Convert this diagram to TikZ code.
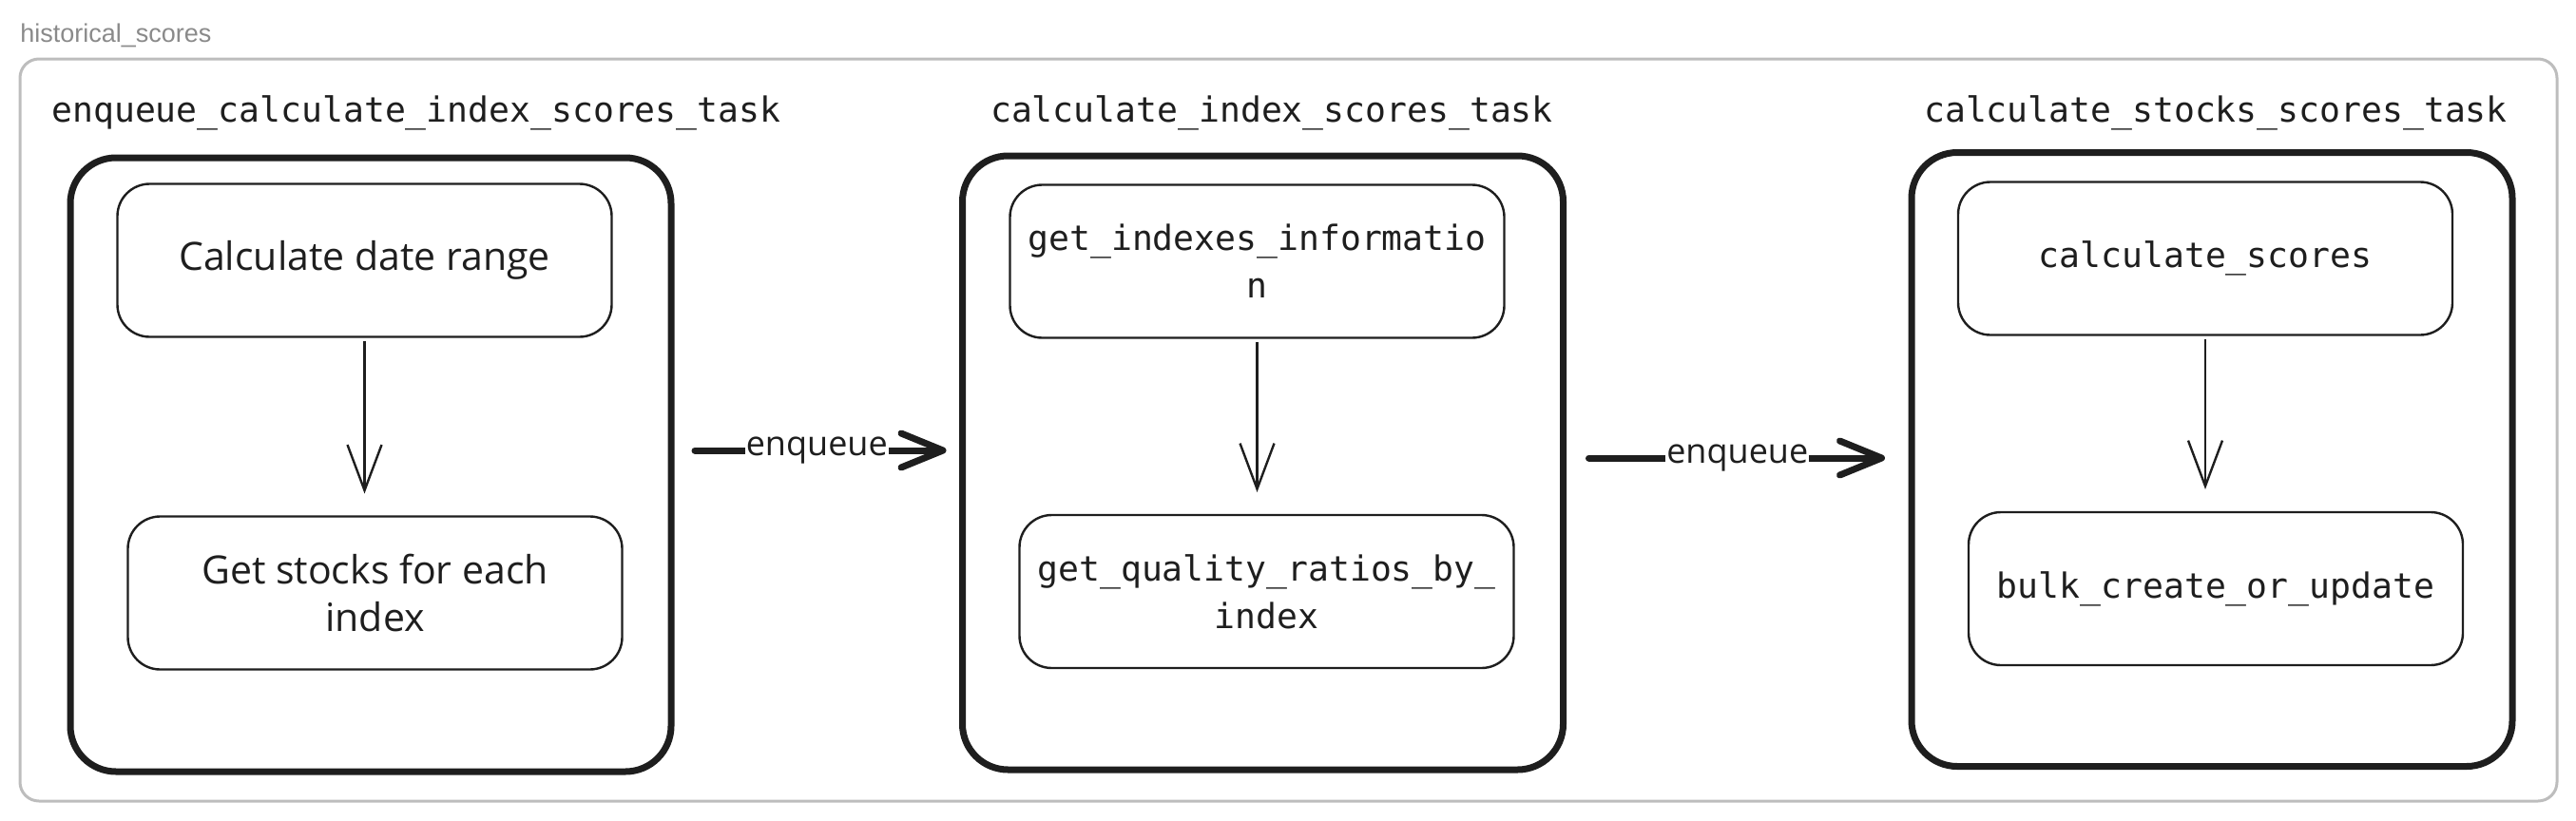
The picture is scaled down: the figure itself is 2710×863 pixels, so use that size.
\documentclass[tikz,border=0pt]{standalone}
\usepackage{fontspec}
\setmainfont{Open Sans}
\setmonofont{DejaVu Sans Mono}
\newfontfamily\labelfont{Liberation Sans}
\usetikzlibrary{arrows.meta}

\definecolor{ink}{HTML}{1E1E1E}
\definecolor{framegray}{HTML}{BDBDBD}
\definecolor{labelgray}{HTML}{8A8A8A}

\begin{document}
\begin{tikzpicture}[x=0.5pt,y=-0.5pt,
  taskbox/.style={draw=ink,line width=3.5pt,rounded corners=24pt,minimum width=316pt,minimum height=323pt,outer sep=0pt},
  stepbox/.style={draw=ink,line width=1.2pt,rounded corners=17pt,minimum width=260pt,minimum height=80.5pt,outer sep=0pt,align=center,text=ink},
  codetext/.style={font=\ttfamily\fontsize{18.2}{25}\selectfont,text=ink},
  handtext/.style={font=\fontsize{20.5}{25}\selectfont,text=ink},
  flow/.style={draw=ink,line width=1.2pt,-{Straight Barb[length=24pt,width=18pt]},shorten <=2pt,shorten >=12pt},
  enqueuearrow/.style={draw=ink,line width=3.5pt,line cap=round,-{Straight Barb[round,length=22pt,width=18pt]}},
  enqlabel/.style={fill=white,inner sep=0.5pt,font=\fontsize{18}{20}\selectfont,text=ink}]

  \useasboundingbox (0,0) rectangle (2710,863);

  % Outer frame and its label
  \draw[framegray,line width=1.5pt,rounded corners=10pt] (21,62) rectangle (2690,843);
  \node[anchor=base west,inner sep=0pt,text=labelgray,font=\labelfont\fontsize{13.5}{16}\selectfont] (framelabel) at (21,44) {historical\_scores};

  % Task boxes
  \node[taskbox] (g1) at (390,489) {};
  \node[taskbox] (g2) at (1328.5,487) {};
  \node[taskbox] (g3) at (2327,483.5) {};

  % Task titles
  \node[codetext,anchor=base west,inner sep=0pt] (t1) at (54,128) {enqueue\_calculate\_index\_scores\_task};
  \node[codetext,anchor=base,inner sep=0pt] (t2) at (1338,128) {calculate\_index\_scores\_task};
  \node[codetext,anchor=base,inner sep=0pt] (t3) at (2331,128) {calculate\_stocks\_scores\_task};

  % Steps inside each task
  \node[stepbox,handtext] (daterange) at (383.5,274) {Calculate date range};
  \node[stepbox,handtext] (stocks) at (394.5,624) {Get stocks for each\\index};
  \node[stepbox,codetext] (indexinfo) at (1322.5,275) {get\_indexes\_informatio\\n};
  \node[stepbox,codetext] (ratios) at (1332.5,622.5) {get\_quality\_ratios\_by\_\\index};
  \node[stepbox,codetext] (scores) at (2320,272) {calculate\_scores};
  \node[stepbox,codetext] (bulk) at (2331,619.5) {bulk\_create\_or\_update};

  % Flow inside the tasks
  \draw[flow] (daterange.south) -- (daterange.south |- stocks.north);
  \draw[flow] (indexinfo.south) -- (indexinfo.south |- ratios.north);
  \draw[flow] (scores.south) -- (scores.south |- bulk.north);

  % Enqueue between tasks
  \draw[enqueuearrow,shorten <=12.5pt,shorten >=8.5pt] (g1.east |- 0,474) -- node[enqlabel] (enq1) {enqueue} (g2.west |- 0,474);
  \draw[enqueuearrow,shorten <=13.5pt,shorten >=14pt] (g2.east |- 0,482) -- node[enqlabel] (enq2) {enqueue} (g3.west |- 0,482);

\end{tikzpicture}
\end{document}
